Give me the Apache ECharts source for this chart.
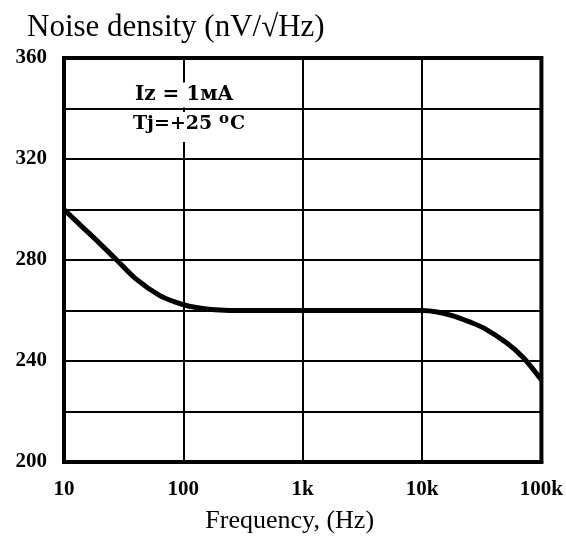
<!DOCTYPE html>
<html>
<head>
<meta charset="utf-8">
<script src="https://cdn.jsdelivr.net/npm/echarts@6/dist/echarts.min.js"></script>
<style>
  html, body { margin: 0; padding: 0; background: #fff; }
  #chart { width: 566px; height: 541px; }
</style>
</head>
<body>
<div id="chart"></div>
<script>
// frequency in Hz, noise in nV/sqrt(Hz)
var freq = [10, 13.6, 20, 27.6, 40, 63, 87, 112, 150, 200, 300, 1000, 10000, 13400, 18500, 25000, 33000, 51000, 71000, 100000]
var noise = [300, 294, 286.5, 280, 272.5, 266, 263.2, 261.7, 260.7, 260.2, 260, 260, 260, 259.4, 257.8, 255.5, 253, 247.2, 241.2, 232.5]
var xTickLabels = {10: '10', 100: '100', 1000: '1k', 10000: '10k', 100000: '100k'}
var yTickLabels = [200, 240, 280, 320, 360]

var chart = echarts.init(document.getElementById('chart'))

var points = []
for (var i = 0; i < freq.length; i++) {
  points.push([freq[i], noise[i]])
}

var labelFont = {
  color: '#000',
  fontFamily: 'Liberation Serif',
  fontWeight: 'bold',
  fontSize: 21
}

chart.setOption({
  animation: false,
  title: {
    text: 'Noise density (nV/√Hz)',
    left: 22,
    top: 7,
    textStyle: {
      color: '#000',
      fontFamily: 'Liberation Serif',
      fontWeight: 'normal',
      fontSize: 31
    }
  },
  grid: {
    left: 64,
    right: 21,
    top: 58,
    bottom: 79,
    show: true,
    borderColor: '#000',
    borderWidth: 4
  },
  xAxis: {
    type: 'log',
    logBase: 10,
    min: 10,
    max: 100000,
    name: 'Frequency, (Hz)',
    nameLocation: 'middle',
    nameGap: 46,
    nameTextStyle: {
      color: '#000',
      fontFamily: 'Liberation Serif',
      fontSize: 26,
      padding: [0, 26, 0, 0]
    },
    axisLine: {show: true, lineStyle: {color: '#000', width: 4}},
    axisTick: {show: false},
    splitLine: {show: true, lineStyle: {color: '#000', width: 2}},
    minorTick: {show: false},
    axisLabel: Object.assign({
      margin: 17,
      formatter: function (v) {
        return xTickLabels[Math.round(v)] || ''
      }
    }, labelFont)
  },
  yAxis: {
    type: 'value',
    min: 200,
    max: 360,
    interval: 20,
    axisLine: {show: true, lineStyle: {color: '#000', width: 4}},
    axisTick: {show: false},
    splitLine: {show: true, lineStyle: {color: '#000', width: 2}},
    axisLabel: Object.assign({
      margin: 17,
      formatter: function (v) {
        return yTickLabels.indexOf(v) >= 0 ? String(v) : ''
      }
    }, labelFont)
  },
  graphic: [
    {
      type: 'text',
      z: 100,
      style: {
        text: 'Iz = 1мA',
        x: 184,
        y: 95,
        align: 'center',
        verticalAlign: 'middle',
        fill: '#000',
        font: 'bold 20px "DejaVu Serif"',
        lineHeight: 16,
        backgroundColor: '#fff',
        padding: [9, 4, 0, 4]
      }
    },
    {
      type: 'text',
      z: 100,
      style: {
        text: 'Tj=+25 {s|o}C',
        x: 189,
        y: 127,
        align: 'center',
        verticalAlign: 'middle',
        fill: '#000',
        font: 'bold 19px "DejaVu Serif"',
        lineHeight: 16,
        backgroundColor: '#fff',
        padding: [4, 4, 10, 4],
        rich: {
          s: {
            fontSize: 15,
            fontWeight: 'bold',
            fontFamily: 'DejaVu Serif',
            lineHeight: 16,
            padding: [0, 1, 9, 0]
          }
        }
      }
    }
  ],
  series: [
    {
      type: 'line',
      data: points,
      smooth: 0.3,
      showSymbol: false,
      lineStyle: {color: '#000', width: 5},
      z: 5
    }
  ]
})
</script>
</body>
</html>
